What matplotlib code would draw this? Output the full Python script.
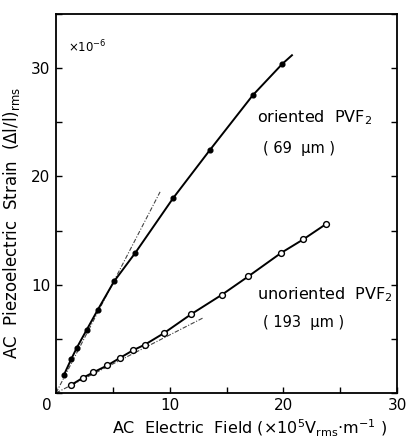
import matplotlib
matplotlib.use("Agg")
import matplotlib.pyplot as plt
import numpy as np

plt.rcParams['font.family'] = ['DejaVu Sans']
plt.rcParams['mathtext.default'] = 'regular'

# Oriented PVF2 (69 um) - filled markers
oriented_x = [0.70, 1.32, 1.82, 2.70, 3.67, 5.10, 6.97, 10.3, 13.5, 17.3, 19.9]
oriented_y = [1.68, 3.09, 4.16, 5.84, 7.68, 10.3, 12.94, 18.0, 22.4, 27.5, 30.4]
oriented_curve_end = (20.75, 31.2)

# Unoriented PVF2 (193 um) - open markers
unoriented_x = [1.29, 2.37, 3.28, 4.51, 5.63, 6.77, 7.83, 9.5, 11.85, 14.57, 16.9, 19.8, 21.75, 23.7]
unoriented_y = [0.71, 1.40, 1.90, 2.54, 3.24, 3.94, 4.47, 5.53, 7.25, 9.06, 10.76, 12.94, 14.19, 15.57]

# initial-slope tangent lines (slope, x extent)
oriented_tangent = (2.03, 9.15)
unoriented_tangent = (0.536, 12.95)

x_tick_labels = ['', '', '10', '', '20', '', '30']
y_tick_labels = ['', '', '10', '', '20', '', '30', '']

fig = plt.figure(figsize=(4.09, 4.41), dpi=100)
fig.patch.set_facecolor('white')
ax = fig.add_axes([0.137, 0.109, 0.834, 0.859])

# tangent lines
for slope, xe in [oriented_tangent, unoriented_tangent]:
    ax.plot([0, xe], [0, slope * xe], color='#444444', lw=0.8, ls=(0, (4, 1.5, 1, 1.5)))

# curves
ax.plot(oriented_x + [oriented_curve_end[0]], oriented_y + [oriented_curve_end[1]],
        color='black', lw=1.4)
ax.plot(oriented_x, oriented_y, ls='none', marker='o', ms=3.4,
        mfc='black', mec='black')
ax.plot(unoriented_x, unoriented_y, color='black', lw=1.4,
        marker='o', ms=4.2, mfc='white', mec='black', mew=1.0)

ax.set_xlim(0, 30)
ax.set_ylim(0, 35)

ax.set_xticks(np.arange(0, 31, 5))
ax.set_xticklabels(x_tick_labels)
ax.set_yticks(np.arange(0, 36, 5))
ax.set_yticklabels(y_tick_labels)
ax.tick_params(direction='in', length=4, width=1.0, labelsize=11,
               top=False, right=True, pad=4)
for s in ax.spines.values():
    s.set_linewidth(1.3)

ax.text(-0.8, -0.5, '0', fontsize=11, ha='center', va='top', clip_on=False)

ax.set_xlabel('AC  Electric  Field (×10$^{5}$V$_{rms}$·m$^{-1}$ )', fontsize=11.5)
ax.set_ylabel('AC  Piezoelectric  Strain  (Δl/l)$_{rms}$', fontsize=12)
ax.xaxis.set_label_coords(0.569, -0.066)
ax.yaxis.set_label_coords(-0.10, 0.449)

ax.text(0.035, 0.913, '×10$^{-6}$', transform=ax.transAxes, fontsize=8.5,
        ha='left', va='center')
ax.text(0.589, 0.728, 'oriented  PVF$_2$', transform=ax.transAxes, fontsize=11.5,
        ha='left', va='center')
ax.text(0.607, 0.646, '( 69  μm )', transform=ax.transAxes, fontsize=10.5,
        ha='left', va='center')
ax.text(0.589, 0.259, 'unoriented  PVF$_2$', transform=ax.transAxes, fontsize=11.5,
        ha='left', va='center')
ax.text(0.607, 0.185, '( 193  μm )', transform=ax.transAxes, fontsize=10.5,
        ha='left', va='center')

fig.savefig('out.png', dpi=100, facecolor='white')
